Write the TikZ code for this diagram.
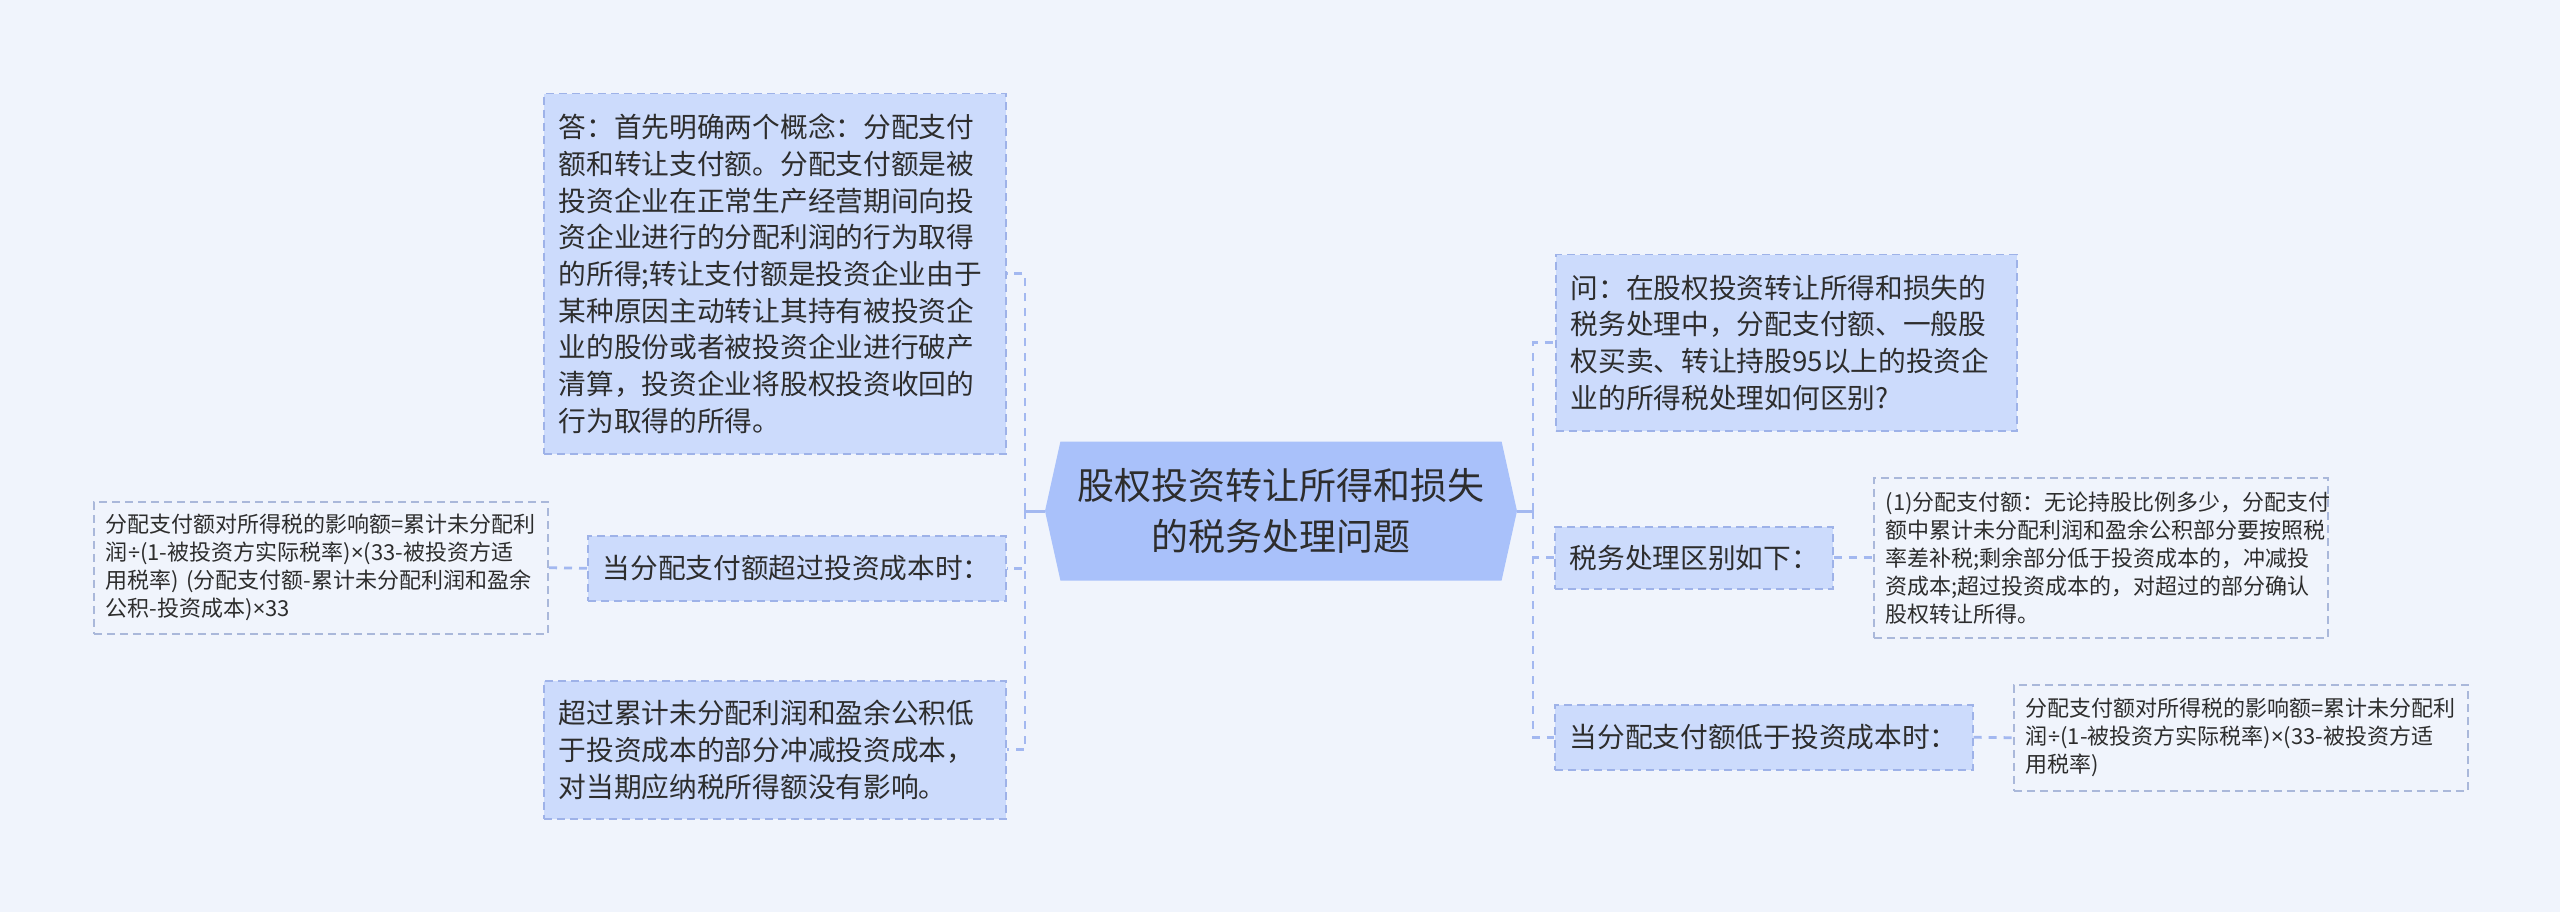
\documentclass[tikz,border=0pt]{standalone}
\usepackage{fontspec}
\newfontfamily\cjk{Noto Sans CJK SC}
\newfontfamily\lat{Noto Sans}
\usetikzlibrary{shapes.symbols}
\definecolor{pagebg}{RGB}{240,244,252}
\definecolor{boxfill}{RGB}{204,219,252}
\definecolor{topicfill}{RGB}{169,193,250}
\definecolor{boxline}{RGB}{158,178,232}
\definecolor{noteline}{RGB}{170,184,218}
\definecolor{linkcol}{RGB}{163,184,240}
\definecolor{ink}{RGB}{45,45,45}
\newcommand{\tms}{{\lat ×}}
\newcommand{\dvd}{{\lat ÷}}
\exhyphenpenalty=10000

\begin{document}
\begin{tikzpicture}[x=1pt,y=-1pt,
    every node/.style={text=ink},
    topic/.style={shape=signal,signal to=west and east,signal pointer angle=155,
      fill=topicfill,minimum width=472pt,minimum height=139pt,inner sep=4pt,
      align=center,font=\cjk\fontsize{37}{51}\selectfont},
    bigbox/.style={draw=boxline,fill=boxfill,line width=1.5pt,dash pattern=on 8pt off 5pt,
      anchor=north west,align=left,inner xsep=15pt,inner ysep=0pt,
      font=\cjk\fontsize{27.7}{36.7}\selectfont},
    notebox/.style={draw=noteline,fill=pagebg,line width=1.5pt,dash pattern=on 8pt off 5pt,
      anchor=north west,align=left,inner xsep=12pt,inner ysep=0pt,text width=430pt,
      minimum width=454pt,font=\cjk\fontsize{22}{28}\selectfont},
    stem/.style={draw=linkcol,line width=3pt},
    branch/.style={draw=linkcol,line width=2.8pt,dash pattern=on 8pt off 7pt}]
  \useasboundingbox (0,0) rectangle (2560,912);
  \fill[pagebg] (0,0) rectangle (2560,912);

  % centre
  \node[topic] (topic) at (1281,511) {股权投资转让所得和损失\\的税务处理问题};
  \coordinate (lhub) at (1025,511);
  \coordinate (rhub) at (1533,511);

  % left side
  \node[bigbox,text width=432pt,minimum height=360pt] (ans) at (543,93)
    {答：首先明确两个概念：分配支付\\额和转让支付额。分配支付额是被\\投资企业在正常生产经营期间向投\\资企业进行的分配利润的行为取得\\的所得;转让支付额是投资企业由于\\某种原因主动转让其持有被投资企\\业的股份或者被投资企业进行破产\\清算，投资企业将股权投资收回的\\行为取得的所得。};
  \node[bigbox,text width=388pt,minimum height=65pt] (exceed) at (587,535)
    {当分配支付额超过投资成本时：};
  \node[bigbox,text width=432pt,minimum height=138pt] (below) at (543,680)
    {超过累计未分配利润和盈余公积低\\于投资成本的部分冲减投资成本，\\对当期应纳税所得额没有影响。};
  \node[notebox,minimum height=132pt] (exceednote) at (93,501)
    {分配支付额对所得税的影响额=累计未分配利\\润\dvd(1-被投资方实际税率)\tms(33-被投资方适\\用税率) (分配支付额-累计未分配利润和盈余\\公积-投资成本)\tms33};

  % right side
  \node[bigbox,text width=431pt,minimum height=176pt] (ques) at (1555,254)
    {问：在股权投资转让所得和损失的\\税务处理中，分配支付额、一般股\\权买卖、转让持股95以上的投资企\\业的所得税处理如何区别?};
  \node[bigbox,text width=248pt,minimum height=62pt] (diff) at (1554,526)
    {税务处理区别如下：};
  \node[bigbox,text width=388pt,minimum height=65pt] (lower) at (1554,704)
    {当分配支付额低于投资成本时：};
  \node[notebox,minimum height=160pt] (diffnote) at (1873,477)
    {(1)分配支付额：无论持股比例多少，分配支付\\额中累计未分配利润和盈余公积部分要按照税\\率差补税;剩余部分低于投资成本的，冲减投\\资成本;超过投资成本的，对超过的部分确认\\股权转让所得。};
  \node[notebox,minimum height=106pt] (lowernote) at (2013,684)
    {分配支付额对所得税的影响额=累计未分配利\\润\dvd(1-被投资方实际税率)\tms(33-被投资方适\\用税率)};

  % connectors
  \draw[stem] (topic.west) -- (lhub);
  \draw[stem] (topic.east) -- (rhub);
  \foreach \b in {ans,exceed,below}
    \draw[branch] (lhub) |- (\b.east);
  \foreach \b in {ques,diff,lower}
    \draw[branch] (rhub) |- (\b.west);
  \draw[branch] (exceed.west) -- (exceednote.east);
  \draw[branch] (diff.east) -- (diffnote.west);
  \draw[branch] (lower.east) -- (lowernote.west);
\end{tikzpicture}
\end{document}
